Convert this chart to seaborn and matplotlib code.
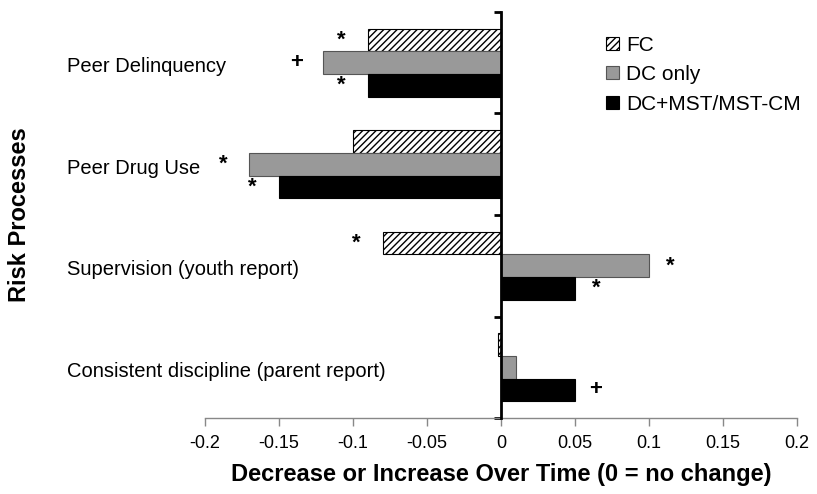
import matplotlib
matplotlib.use("Agg")
import matplotlib.pyplot as plt
import matplotlib.transforms as mtransforms
import seaborn as sns
import pandas as pd

categories = ["Peer Delinquency", "Peer Drug Use", "Supervision (youth report)",
              "Consistent discipline (parent report)"]
groups = ["FC", "DC only", "DC+MST/MST-CM"]
fc_values = [-0.09, -0.10, -0.08, -0.002]
dc_values = [-0.12, -0.17, 0.10, 0.01]
mst_values = [-0.09, -0.15, 0.05, 0.05]
fc_marks = ["*", "", "*", ""]
dc_marks = ["+", "*", "*", ""]
mst_marks = ["*", "*", "*", "+"]
x_ticks = [-0.2, -0.15, -0.1, -0.05, 0, 0.05, 0.1, 0.15, 0.2]
x_tick_labels = ["-0.2", "-0.15", "-0.1", "-0.05", "0", "0.05", "0.1", "0.15", "0.2"]

rows = []
for g, vals in zip(groups, [fc_values, dc_values, mst_values]):
    for c, v in zip(categories, vals):
        rows.append({"category": c, "group": g, "value": v})
df = pd.DataFrame(rows)

sns.set_theme(style="white")
plt.rcParams["font.family"] = ["Liberation Sans", "DejaVu Sans"]
plt.rcParams["hatch.linewidth"] = 1.0
plt.rcParams["text.color"] = "black"
plt.rcParams["axes.labelcolor"] = "black"
plt.rcParams["xtick.labelcolor"] = "black"

fig = plt.figure(figsize=(8.17, 4.94), dpi=100)
ax = fig.add_axes([205 / 817, 1 - 418 / 494, 592 / 817, 406 / 494])

sns.barplot(data=df, x="value", y="category", hue="group", order=categories,
            hue_order=groups, palette=["white", "#999999", "black"],
            orient="h", width=0.67, ax=ax, legend=False, errorbar=None,
            saturation=1)

edge_cols = ["black", "#555555", "black"]
for cont, ec in zip(ax.containers, edge_cols):
    for p in cont.patches:
        p.set_edgecolor(ec)
        p.set_linewidth(0.8)
for p in ax.containers[0].patches:
    p.set_hatch("/////")

# significance marks
for cont, marks in zip(ax.containers, [fc_marks, dc_marks, mst_marks]):
    for p, m in zip(cont.patches, marks):
        if not m:
            continue
        end = p.get_x() + p.get_width()
        yc = p.get_y() + p.get_height() / 2
        off = -19 if end < 0 else 15
        ax.annotate(m, xy=(end, yc), xytext=(off, 0), textcoords="offset points",
                    ha="center", va="center", fontsize=16, fontweight="bold",
                    color="black")

ax.set_xlim(-0.2, 0.2)
ax.set_ylim(3.5, -0.5)
ax.set_xticks(x_ticks)
ax.set_xticklabels(x_tick_labels, fontsize=13)
ax.set_yticks([-0.5, 0.5, 1.5, 2.5, 3.5])
ax.set_yticklabels([])

ax.spines["top"].set_visible(False)
ax.spines["right"].set_visible(False)
ax.spines["left"].set_position(("data", 0))
ax.spines["left"].set_color("black")
ax.spines["left"].set_linewidth(2)
ax.spines["left"].set_zorder(5)
ax.spines["bottom"].set_color("#888888")
ax.spines["bottom"].set_linewidth(1)
ax.tick_params(axis="x", direction="out", length=6, width=1, color="#888888",
               pad=6, bottom=True)
ax.tick_params(axis="y", direction="out", length=5, width=2, color="black", left=True)

# category labels at left
trans = mtransforms.blended_transform_factory(fig.transFigure, ax.transData)
for i, c in enumerate(categories):
    fig.text(67 / 817, i + 0.04, c, transform=trans, ha="left", va="center",
             fontsize=14.5)

ax.set_xlabel("Decrease or Increase Over Time (0 = no change)", fontsize=17,
              fontweight="bold", labelpad=8)
ax.set_ylabel("")
fig.text(20 / 817, 1 - 215 / 494, "Risk Processes", rotation=90, ha="center",
         va="center", fontsize=17, fontweight="bold")

ax.legend(ax.containers, groups, loc="upper left", bbox_to_anchor=(0.664, 0.962),
          frameon=False, fontsize=15, handlelength=0.6, handleheight=0.6,
          handletextpad=0.35, labelspacing=0.5, borderaxespad=0)

fig.savefig("out.png", dpi=100)
